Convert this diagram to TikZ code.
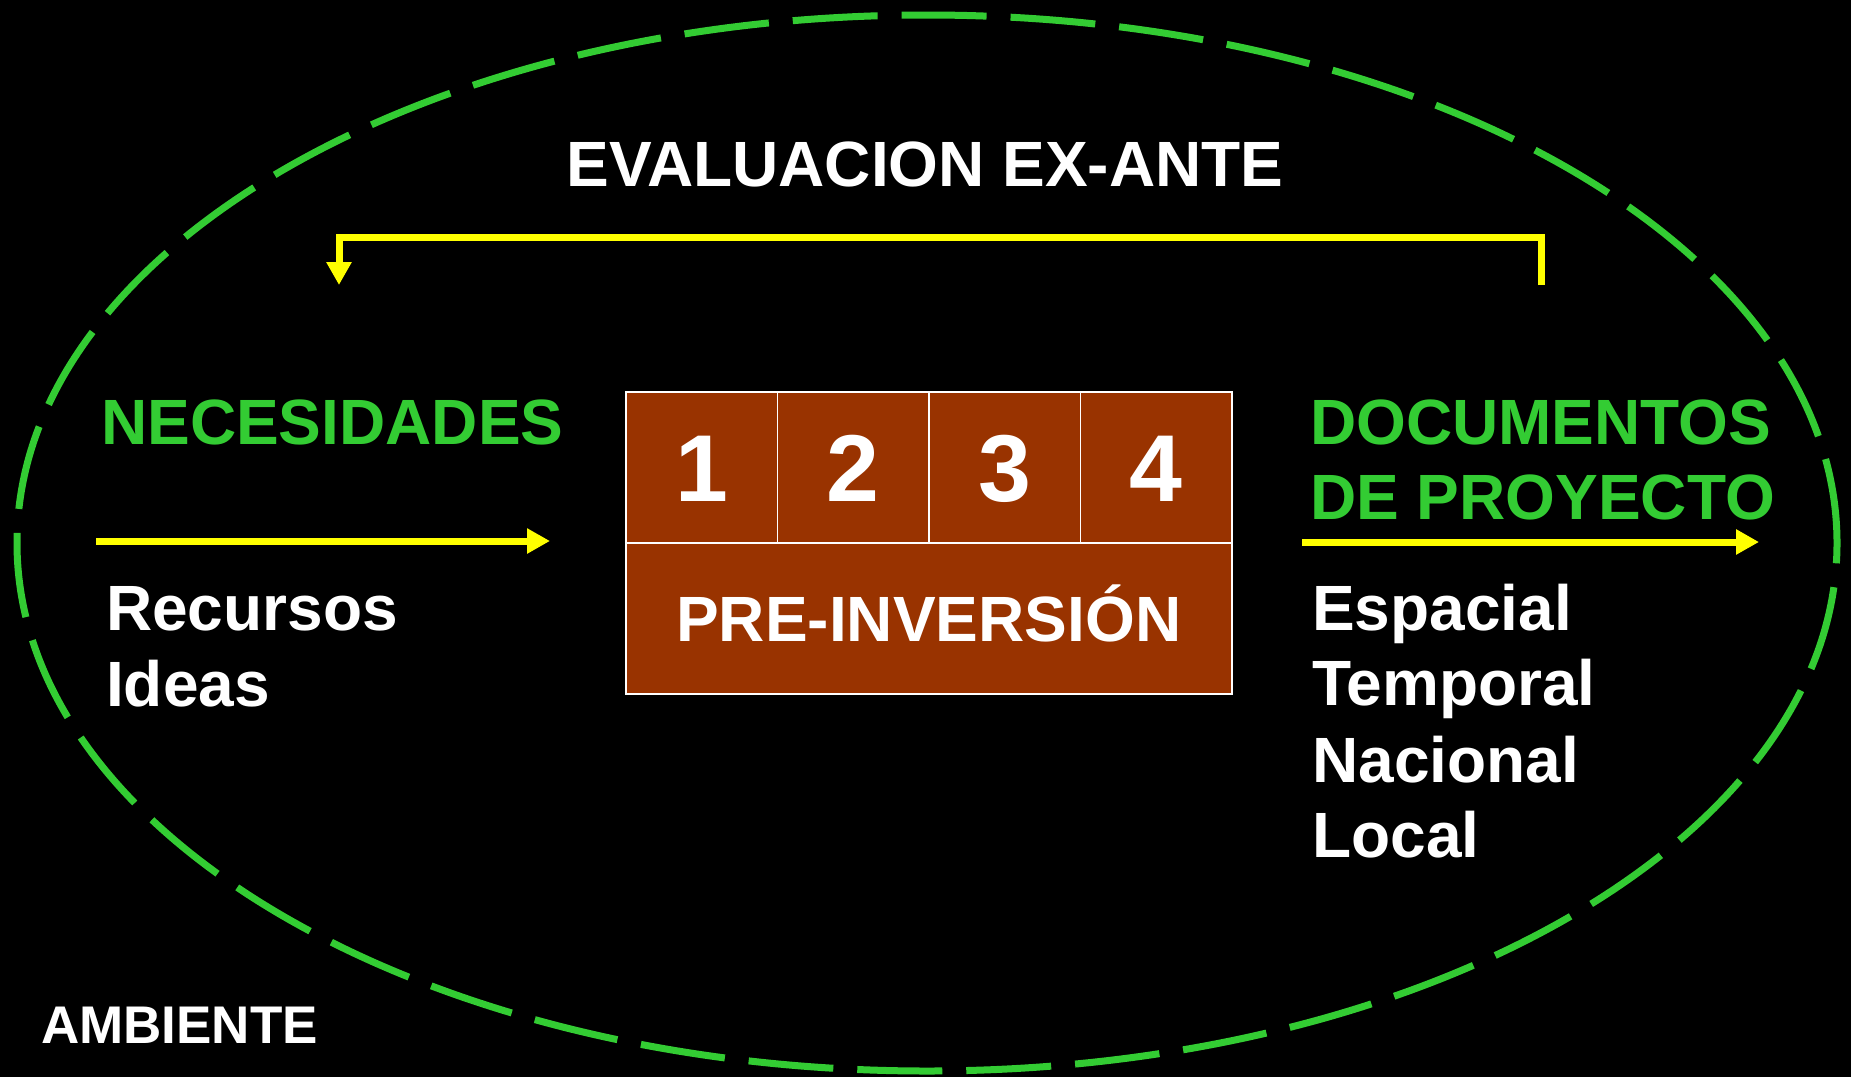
\documentclass[tikz,border=0pt]{standalone}
\usepackage{fontspec}
\setmainfont{Liberation Sans}
\usetikzlibrary{arrows.meta}
\definecolor{envgreen}{HTML}{33CC33}
\definecolor{brickred}{HTML}{993300}
\definecolor{arrowyellow}{HTML}{FFFF00}
\tikzset{
  lbl/.style={anchor=base west, inner sep=0pt, text=white, font=\bfseries\fontsize{64}{76}\selectfont},
  glbl/.style={lbl, text=envgreen},
  cell/.style={draw=white, line width=1.5pt, fill=brickred, anchor=north west, inner sep=0pt, text=white},
  digitcell/.style={cell, minimum width=151.5pt, minimum height=151pt, text height=68pt, text depth=0pt, font=\bfseries\fontsize{95}{95}\selectfont},
  flow/.style={draw=arrowyellow, line width=7pt, -{Triangle[length=23pt,width=24pt]}},
  envline/.style={draw=envgreen, line width=7pt, dash pattern=on 85pt off 24pt}
}
\begin{document}
\begin{tikzpicture}[x=1pt,y=-1pt]
\fill[black] (0,0) rectangle (1851,1077);
\useasboundingbox (0,0) rectangle (1851,1077);
% environment ellipse
\draw[envline] (927,543) ellipse [x radius=910pt, y radius=528pt];
% title
\node[lbl, anchor=base] (title) at (925,186) {EVALUACION EX-ANTE};
% central block
\node[digitcell] (c1) at (625,391) {1};
\node[digitcell] (c2) at (776.5,391) {2};
\node[digitcell] (c3) at (928,391) {3};
\node[digitcell] (c4) at (1079.5,391) {4};
\node[cell, minimum width=606pt, minimum height=151pt, text height=46pt, text depth=0pt, font=\bfseries\fontsize{64}{76}\selectfont] (pre) at (625,542) {PRE-INVERSIÓN};
% left side
\node[glbl] (nec) at (101,444) {NECESIDADES};
\node[lbl] (rec) at (106,630) {Recursos};
\node[lbl] (ide) at (106,706) {Ideas};
% right side
\node[glbl] (doc1) at (1310,444) {DOCUMENTOS};
\node[glbl] (doc2) at (1310,519) {DE PROYECTO};
\node[lbl] (esp) at (1312,630) {Espacial};
\node[lbl] (tem) at (1312,705) {Temporal};
\node[lbl] (nac) at (1312,782) {Nacional};
\node[lbl] (loc) at (1312,857) {Local};
\node[lbl, font=\bfseries\fontsize{53}{60}\selectfont] (amb) at (41,1043) {AMBIENTE};
% arrows
\coordinate (inS) at (96,541);
\coordinate (inE) at (550,541);
\coordinate (outS) at (1302,542);
\coordinate (outE) at (1759,542);
\coordinate (fbS) at (1541,285);
\coordinate (fbE) at (339,285);
\draw[flow] (inS) -- (inE);
\draw[flow] (outS) -- (outE);
\draw[flow] (fbS) |- (339,237) -- (fbE);
\end{tikzpicture}
\end{document}
